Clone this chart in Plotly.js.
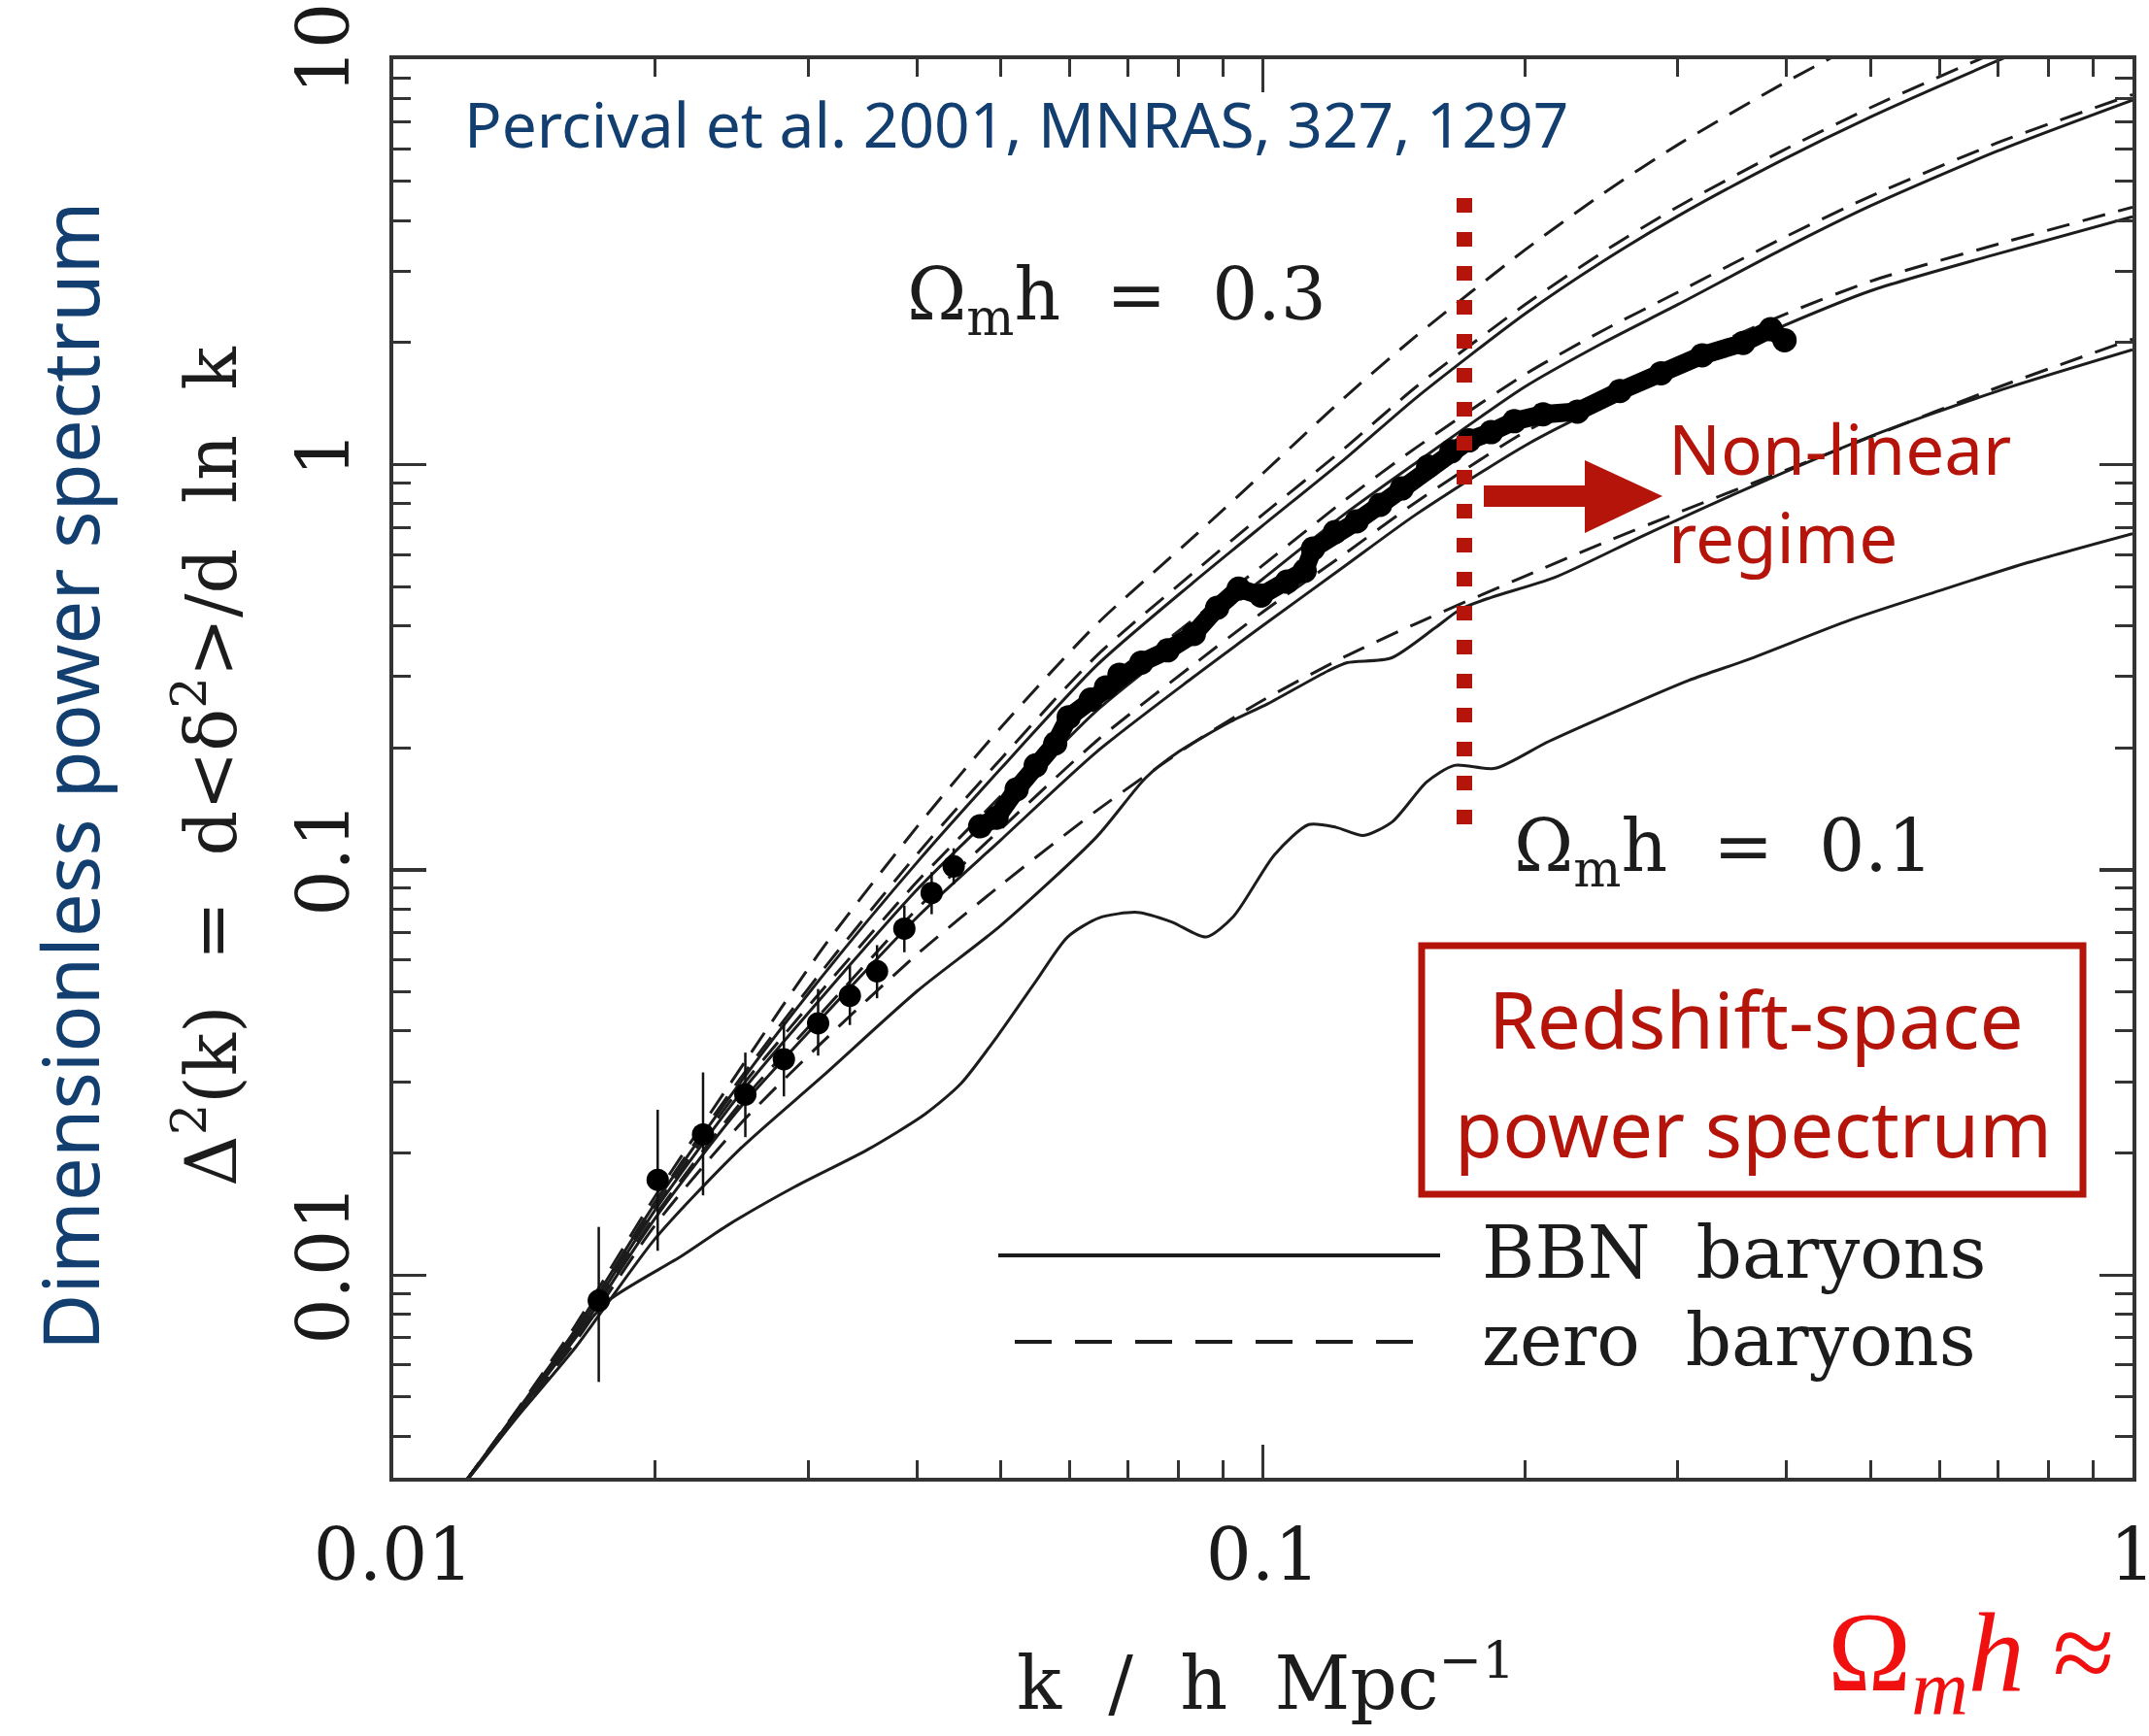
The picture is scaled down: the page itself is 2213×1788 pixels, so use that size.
<!DOCTYPE html>
<html><head><meta charset="utf-8">
<script src="https://cdn.plot.ly/plotly-3.0.1.min.js"></script>
<style>html,body{margin:0;padding:0;background:#fff;} #chart{width:2213px;height:1788px;}</style>
</head><body><div id="chart"></div>
<script>
// ---------------- data ----------------
// common k grid (h/Mpc) for the smooth model curves
const kGrid = [0.0121,0.0139,0.0162,0.02,0.025,0.0311,0.0401,0.05,0.0644,0.083,0.1,0.124,0.15,0.2,0.246,0.3,0.395,0.5,0.7,1.0];
// zero-baryon models (dashed)
const dashed_030 = [0.00309,0.00467,0.00752,0.01564,0.03204,0.0636,0.1283,0.2249,0.4036,0.6595,0.9513,1.460,2.074,3.38,4.66,6.15,8.67,11.37,17.0,25.5];
const dashed_025 = [0.00309,0.00464,0.00729,0.01516,0.03034,0.05617,0.1098,0.1880,0.3374,0.5387,0.7529,1.094,1.554,2.476,3.342,4.325,5.935,7.60,10.46,14.42];
const dashed_020 = [0.00309,0.00460,0.00723,0.01469,0.02873,0.05035,0.0939,0.1524,0.2670,0.4132,0.5644,0.8139,1.100,1.667,2.140,2.661,3.608,4.593,6.224,8.177];
const dashed_015 = [0.00309,0.00456,0.00706,0.01402,0.02637,0.04445,0.0804,0.1263,0.2081,0.3194,0.4330,0.6006,0.8075,1.202,1.495,1.803,2.331,2.833,3.497,4.315];
const dashed_010 = [0.00309,0.00453,0.00685,0.01328,0.02346,0.03745,0.0621,0.0918,0.140,0.205,0.262,0.335,0.405,0.530,0.640,0.760,0.960,1.17,1.55,2.04];
// BBN-baryon models (solid)
const solid_030 = [0.00309,0.00464,0.00734,0.01504,0.02964,0.05444,0.1048,0.1780,0.3194,0.5099,0.7075,1.028,1.460,2.35,3.17,4.10,5.63,7.21,9.92,13.68];
const solid_025 = [0.00309,0.00460,0.00717,0.01447,0.02785,0.04844,0.0897,0.1431,0.2470,0.3822,0.5221,0.7529,1.010,1.554,1.995,2.481,3.389,4.349,5.939,7.928];
const solid_020 = [0.00309,0.00456,0.00701,0.01381,0.02576,0.04309,0.0767,0.1187,0.1955,0.2978,0.4005,0.5600,0.7529,1.112,1.394,1.680,2.190,2.683,3.311,4.087];
// wiggly low-density BBN models, traced on their own k points
const k_solid_015 = [0.01212,0.01391,0.0162,0.02,0.025,0.0311,0.0401,0.0499,0.0644,0.0733,0.08,0.0918,0.1013,0.1188,0.125,0.1404,0.1577,0.1689,0.183,0.2163,0.2748,0.3606,0.5,0.7007,1.0];
const solid_015 = [0.00309,0.00449,0.00663,0.01229,0.02039,0.03083,0.05035,0.0727,0.1206,0.1685,0.1955,0.2320,0.2568,0.3096,0.3245,0.3330,0.395,0.440,0.470,0.5260,0.6699,0.8730,1.174,1.519,1.919];
const k_solid_010 = [0.01212,0.01391,0.0162,0.01768,0.02151,0.02425,0.02896,0.0351,0.04088,0.04493,0.04955,0.05485,0.05962,0.06481,0.07175,0.07856,0.08603,0.09249,0.1031,0.1129,0.1214,0.1305,0.1409,0.1543,0.166,0.185,0.2139,0.3086,0.3606,0.4733,0.6037,0.759,1.0];
const solid_010 = [0.00309,0.00456,0.00701,0.00865,0.01118,0.01328,0.01652,0.02039,0.02496,0.02964,0.03895,0.05319,0.06828,0.07613,0.07852,0.07436,0.06828,0.0767,0.1089,0.1293,0.1273,0.1215,0.1314,0.1647,0.1809,0.1780,0.2081,0.2932,0.3296,0.4132,0.4904,0.5733,0.6753];
// 2dFGRS measurements: binned points with errors (large scales)
const kBins = [0.01723,0.02014,0.02271,0.0254,0.02813,0.0308,0.0335,0.036,0.0387,0.0416,0.0441];
const pBins = [0.00865,0.01718,0.02223,0.0279,0.0341,0.0418,0.0489,0.0562,0.0716,0.0877,0.102];
const errUp = [0.0045,0.0084,0.0094,0.0075,0.008,0.009,0.009,0.009,0.010,0.011,0.011];
const errDn = [0.0032,0.0057,0.0065,0.0060,0.0065,0.007,0.0075,0.008,0.009,0.010,0.010];
// densely sampled measurements (small scales)
const kDense = [0.0473,0.0494,0.0521,0.0548,0.0577,0.0598,0.0634,0.066,0.0684,0.0725,0.0777,0.0833,0.0886,0.0938,0.0995,0.1066,0.1117,0.1142,0.121,0.1282,0.1364,0.1445,0.1549,0.1647,0.1726,0.183,0.1946,0.21,0.23,0.2574,0.287,0.32,0.3567,0.3837,0.398];
const pDense = [0.128,0.1345,0.158,0.181,0.205,0.238,0.263,0.282,0.303,0.3245,0.348,0.382,0.443,0.494,0.475,0.514,0.547,0.620,0.681,0.724,0.795,0.873,0.989,1.078,1.147,1.202,1.279,1.330,1.351,1.519,1.680,1.860,1.995,2.157,2.026];
// tick labels
const xTickVals = [0.01,0.1,1], xTickText = ['0.01','0.1','1'];
const yTickVals = [0.01,0.1,1,10], yTickText = ['0.01','0.1','1','10'];

// ---------------- geometry helpers ----------------
const L=405, R=2196, T=61, B=1522;
const px = X => (X-L)/(R-L);
const py = Y => (B-Y)/(B-T);
function minorVals(lo, hi){ const v=[]; for(let d=lo; d<hi; d++){ for(let m=2;m<=9;m++) v.push(m*Math.pow(10,d)); } return v; }

const INK = '#1c1c1c';
const solidLine = {color:INK, width:3, shape:'spline', smoothing:0.7};
const dashLine = {color:INK, width:3, dash:'24px,14px', shape:'spline', smoothing:0.7};

const traces = [];
[[dashed_030,'zero baryons, Ωmh=0.30'],[dashed_025,'zero baryons, Ωmh=0.25'],[dashed_020,'zero baryons, Ωmh=0.20'],[dashed_015,'zero baryons, Ωmh=0.15'],[dashed_010,'zero baryons, Ωmh=0.10']]
  .forEach(([y,n]) => traces.push({x:kGrid, y:y, mode:'lines', line:dashLine, name:n}));
[[solid_030,'BBN, Ωmh=0.30'],[solid_025,'BBN, Ωmh=0.25'],[solid_020,'BBN, Ωmh=0.20']]
  .forEach(([y,n]) => traces.push({x:kGrid, y:y, mode:'lines', line:solidLine, name:n}));
traces.push({x:k_solid_015, y:solid_015, mode:'lines', line:solidLine, name:'BBN, Ωmh=0.15'});
traces.push({x:k_solid_010, y:solid_010, mode:'lines', line:solidLine, name:'BBN, Ωmh=0.10'});
traces.push({x:kBins, y:pBins, mode:'markers', marker:{color:'#000', size:23},
  error_y:{type:'data', symmetric:false, array:errUp, arrayminus:errDn, color:'#111', thickness:2.5, width:0}, name:'2dFGRS'});
traces.push({x:kDense, y:pDense, mode:'lines+markers', line:{color:'#000', width:19}, marker:{color:'#000', size:25}, name:'2dFGRS dense'});

const tickFont = {family:'DejaVu Serif', size:74, color:'#1a1a1a'};
const axCommon = {type:'log', showgrid:false, zeroline:false, showline:true, linewidth:4, linecolor:'#333',
  mirror:'ticks', ticks:'inside', ticklen:34, tickwidth:3.5, tickcolor:'#333', tickfont:tickFont, ticklabelstandoff:12,
  ticklabeloverflow:'allow'};

const RED = '#b5140a', BLUE = '#123f70';
const annotations = [
  {text:'Percival et al. 2001, MNRAS, 327, 1297', x:px(476), y:py(127), xanchor:'left', yanchor:'middle', font:{family:'Noto Sans', size:64, color:BLUE}},
  {text:'Ω<sub>m</sub>h\u00a0\u00a0=\u00a0\u00a00.3', x:px(1150), y:py(308), xanchor:'center', yanchor:'middle', font:{family:'DejaVu Serif', size:74, color:INK}},
  {text:'Ω<sub>m</sub>h\u00a0\u00a0=\u00a0\u00a00.1', x:px(1775), y:py(876), xanchor:'center', yanchor:'middle', font:{family:'DejaVu Serif', size:74, color:INK}},
  {text:'Non-linear', x:px(1716), y:py(462), xanchor:'left', yanchor:'middle', font:{family:'Noto Sans', size:71, color:RED}},
  {text:'regime', x:px(1716), y:py(552), xanchor:'left', yanchor:'middle', font:{family:'Noto Sans', size:71, color:RED}},
  {text:'Redshift-space', x:px(1808), y:py(1048), xanchor:'center', yanchor:'middle', font:{family:'Noto Sans', size:80, color:RED}},
  {text:'power spectrum', x:px(1805), y:py(1160), xanchor:'center', yanchor:'middle', font:{family:'Noto Sans', size:80, color:RED}},
  {text:'BBN\u00a0\u00a0baryons', x:px(1524), y:py(1290), xanchor:'left', yanchor:'middle', font:{family:'DejaVu Serif', size:74, color:INK}},
  {text:'zero\u00a0\u00a0baryons', x:px(1524), y:py(1380), xanchor:'left', yanchor:'middle', font:{family:'DejaVu Serif', size:74, color:INK}},
  {text:'Δ<sup>2</sup>(k)\u00a0\u00a0=\u00a0\u00a0d&lt;δ<sup>2</sup>&gt;/d\u00a0\u00a0ln\u00a0\u00a0k', x:px(212), y:py(790), xanchor:'center', yanchor:'middle', textangle:-90, font:{family:'DejaVu Serif', size:73, color:INK}},
  {text:'Dimensionless power spectrum', x:px(70), y:py(800), xanchor:'center', yanchor:'middle', textangle:-90, font:{family:'Noto Sans', size:80, color:BLUE}},
  {text:'k\u00a0\u00a0/\u00a0\u00a0h\u00a0\u00a0Mpc<sup>−1</sup>', x:px(1303), y:py(1728), xanchor:'center', yanchor:'middle', font:{family:'DejaVu Serif', size:76, color:INK}},
  {text:'Ω<sub><i>m</i></sub><i>h</i> ≈', x:px(1880), y:py(1710), xanchor:'left', yanchor:'middle', font:{family:'Liberation Serif', size:116, color:'#f01010'}}
];
annotations.forEach(a => { a.xref='paper'; a.yref='paper'; a.showarrow=false; });

const shapes = [
  // non-linear boundary
  {type:'line', xref:'paper', yref:'paper', x0:px(1508), x1:px(1508), y0:py(204), y1:py(850), line:{color:RED, width:16, dash:'15px,20px'}},
  // arrow shaft + head
  {type:'rect', xref:'paper', yref:'paper', x0:px(1528), x1:px(1640), y0:py(500), y1:py(522), fillcolor:RED, line:{width:0}},
  {type:'path', xref:'paper', yref:'paper', path:`M ${px(1632)} ${py(474)} L ${px(1712)} ${py(511)} L ${px(1632)} ${py(549)} Z`, fillcolor:RED, line:{width:0}},
  // box
  {type:'rect', xref:'paper', yref:'paper', x0:px(1464), x1:px(2145), y0:py(974), y1:py(1230), line:{color:RED, width:7}},
  // legend samples
  {type:'line', xref:'paper', yref:'paper', x0:px(1028), x1:px(1483), y0:py(1293), y1:py(1293), line:{color:INK, width:4}},
  {type:'line', xref:'paper', yref:'paper', x0:px(1045), x1:px(1470), y0:py(1382), y1:py(1382), line:{color:INK, width:4, dash:'38px,24px'}}
];

const layout = {
  width:2213, height:1788, paper_bgcolor:'#fff', plot_bgcolor:'#fff', showlegend:false,
  margin:{l:L, r:2213-R, t:T, b:1788-B, pad:0},
  xaxis:Object.assign({}, axCommon, {range:[-2,0.00001], tickvals:xTickVals, ticktext:xTickText,
    minor:{ticks:'inside', ticklen:18, tickwidth:3, tickcolor:'#333', tickvals:minorVals(-2,0)}}),
  yaxis:Object.assign({}, axCommon, {range:[-2.5,1.00001], tickvals:yTickVals, ticktext:yTickText, tickangle:-90,
    minor:{ticks:'inside', ticklen:18, tickwidth:3, tickcolor:'#333', tickvals:minorVals(-3,1).filter(v=>v>0.0031)}}),
  annotations:annotations, shapes:shapes
};
Plotly.newPlot('chart', traces, layout, {staticPlot:true, displayModeBar:false});
</script></body></html>
